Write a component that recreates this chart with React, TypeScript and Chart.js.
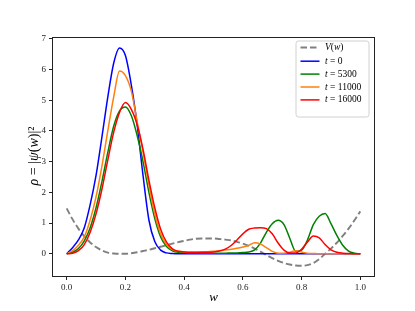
import React, { useEffect, useRef } from 'react';
import { Chart, registerables } from 'chart.js';

Chart.register(...registerables);

const W = [0, 0.02, 0.04, 0.06, 0.08, 0.1, 0.12, 0.14, 0.16, 0.18, 0.2, 0.22, 0.24, 0.26, 0.28, 0.3, 0.32, 0.34, 0.36, 0.38, 0.4, 0.42, 0.44, 0.46, 0.48, 0.5, 0.52, 0.54, 0.56, 0.58, 0.6, 0.62, 0.64, 0.66, 0.68, 0.7, 0.72, 0.74, 0.76, 0.78, 0.8, 0.82, 0.84, 0.86, 0.88, 0.9, 0.92, 0.94, 0.96, 0.98, 1.0];

const V_W = [1.48, 1.12, 0.82, 0.57, 0.37, 0.22, 0.11, 0.04, 0.01, 0.0, 0.0, 0.02, 0.05, 0.09, 0.13, 0.18, 0.23, 0.28, 0.33, 0.38, 0.42, 0.46, 0.49, 0.5, 0.5, 0.5, 0.48, 0.46, 0.44, 0.39, 0.33, 0.26, 0.17, 0.07, -0.04, -0.14, -0.23, -0.3, -0.35, -0.38, -0.39, -0.37, -0.3, -0.17, 0.0, 0.17, 0.36, 0.58, 0.82, 1.09, 1.38];

const RHO_T0 = [0, 0.2, 0.45, 0.85, 1.6, 2.55, 3.8, 5.1, 6.2, 6.7, 6.45, 5.5, 4.2, 2.55, 1.1, 0.4, 0.12, 0.03, 0.01, 0, 0, 0, 0, 0, 0, 0, 0, 0, 0, 0, 0, 0, 0, 0, 0, 0, 0, 0, 0, 0, 0, 0, 0, 0, 0, 0, 0, 0, 0, 0, 0];

const RHO_T5300 = [0, 0.05, 0.17, 0.42, 0.85, 1.5, 2.35, 3.3, 4.15, 4.65, 4.78, 4.5, 3.85, 3.0, 2.0, 1.15, 0.55, 0.24, 0.1, 0.05, 0.04, 0.03, 0.03, 0.02, 0.02, 0.02, 0.02, 0.02, 0.03, 0.03, 0.04, 0.06, 0.13, 0.35, 0.7, 0.98, 1.09, 0.95, 0.5, 0.08, 0.12, 0.45, 0.95, 1.22, 1.31, 0.98, 0.6, 0.28, 0.09, 0.02, 0];

const RHO_T11000 = [0, 0.1, 0.28, 0.55, 1.1, 1.85, 2.85, 4.0, 5.1, 5.95, 5.8, 5.3, 4.3, 3.3, 2.25, 1.3, 0.65, 0.3, 0.14, 0.08, 0.06, 0.05, 0.05, 0.06, 0.07, 0.08, 0.1, 0.12, 0.15, 0.18, 0.22, 0.27, 0.36, 0.32, 0.2, 0.08, 0.02, 0.02, 0.05, 0.1, 0.06, 0.02, 0.01, 0, 0, 0, 0, 0, 0, 0, 0];

const RHO_T16000 = [0, 0.02, 0.1, 0.3, 0.7, 1.3, 2.1, 3.05, 3.95, 4.6, 4.92, 4.7, 4.2, 3.4, 2.4, 1.5, 0.8, 0.38, 0.16, 0.08, 0.06, 0.05, 0.05, 0.05, 0.05, 0.06, 0.09, 0.15, 0.27, 0.45, 0.65, 0.8, 0.84, 0.85, 0.82, 0.65, 0.35, 0.12, 0.03, 0.03, 0.15, 0.38, 0.58, 0.52, 0.3, 0.13, 0.05, 0.02, 0.01, 0, 0];

const SERIES_LABELS = ['V(w)', 't = 0', 't = 5300', 't = 11000', 't = 16000'];
const X_TICKS = [0, 0.2, 0.4, 0.6, 0.8, 1.0];
const Y_TICKS = [0, 1, 2, 3, 4, 5, 6, 7];
const X_LABEL = 'w';
const Y_LABEL = 'ρ = |ψ(w)|²';

const FONT = '"Liberation Serif", "DejaVu Serif", serif';

function drawRich(ctx: CanvasRenderingContext2D, text: string, x: number, y: number, size: number, align: 'left' | 'center') {
  const segs: { t: string; it: boolean; w: number }[] = [];
  for (const ch of text) {
    const it = /[A-Za-z\u03b1-\u03c9]/.test(ch);
    const last = segs[segs.length - 1];
    if (last && last.it === it) last.t += ch;
    else segs.push({ t: ch, it, w: 0 });
  }
  const font = (it: boolean) => `${it ? 'italic ' : ''}${size}px ${FONT}`;
  let total = 0;
  for (const s of segs) {
    ctx.font = font(s.it);
    s.w = ctx.measureText(s.t).width;
    total += s.w;
  }
  let cx = align === 'center' ? x - total / 2 : x;
  ctx.textBaseline = 'middle';
  ctx.textAlign = 'left';
  for (const s of segs) {
    ctx.font = font(s.it);
    ctx.fillText(s.t, cx, y);
    cx += s.w;
  }
}

const decorPlugin = {
  id: 'decor',
  afterDraw(chart: any) {
    const { ctx, chartArea: a } = chart;
    ctx.save();
    ctx.strokeStyle = '#222';
    ctx.lineWidth = 1;
    ctx.strokeRect(Math.round(a.left) + 0.5, Math.round(a.top) + 0.5, Math.round(a.right - a.left) - 1, Math.round(a.bottom - a.top) - 1);
    ctx.fillStyle = '#000';
    ctx.save();
    ctx.translate(34, (a.top + a.bottom) / 2 - 1);
    ctx.rotate(-Math.PI / 2);
    drawRich(ctx, Y_LABEL, 0, 0, 14, 'center');
    ctx.restore();
    const bw = 73, bh = 76;
    const bx = a.right - 6 - bw, by = a.top + 4;
    const r = 2.5;
    ctx.beginPath();
    ctx.moveTo(bx + r, by);
    ctx.lineTo(bx + bw - r, by);
    ctx.quadraticCurveTo(bx + bw, by, bx + bw, by + r);
    ctx.lineTo(bx + bw, by + bh - r);
    ctx.quadraticCurveTo(bx + bw, by + bh, bx + bw - r, by + bh);
    ctx.lineTo(bx + r, by + bh);
    ctx.quadraticCurveTo(bx, by + bh, bx, by + bh - r);
    ctx.lineTo(bx, by + r);
    ctx.quadraticCurveTo(bx, by, bx + r, by);
    ctx.closePath();
    ctx.fillStyle = 'rgba(255,255,255,0.8)';
    ctx.fill();
    ctx.strokeStyle = '#d0d0d0';
    ctx.lineWidth = 1;
    ctx.stroke();
    chart.data.datasets.forEach((ds: any, i: number) => {
      const yy = by + 6.5 + i * 12.9 + (i > 0 ? 0.8 : 0);
      ctx.save();
      ctx.strokeStyle = ds.borderColor;
      ctx.lineWidth = ds.borderWidth;
      ctx.setLineDash(ds.borderDash || []);
      ctx.beginPath();
      ctx.moveTo(bx + 4.5, yy);
      ctx.lineTo(bx + 23.5, yy);
      ctx.stroke();
      ctx.restore();
      ctx.fillStyle = '#000';
      drawRich(ctx, ds.label, bx + 29, yy, 9.5, 'left');
    });
    ctx.restore();
  },
};

export default function App() {
  const ref = useRef<HTMLCanvasElement | null>(null);
  useEffect(() => {
    if (!ref.current) return;
    const mk = (arr: number[]) => W.map((x, i) => ({ x, y: arr[i] }));
    const series = [V_W, RHO_T0, RHO_T5300, RHO_T11000, RHO_T16000];
    const colors = ['#808080', '#0000ff', '#008000', '#ff7f0e', '#ff0000'];
    const datasets = series.map((arr, i) => ({
      label: SERIES_LABELS[i],
      data: mk(arr),
      borderColor: colors[i],
      backgroundColor: colors[i],
      borderWidth: i === 0 ? 1.9 : 1.5,
      borderDash: i === 0 ? [6.5, 3] : [],
      pointRadius: 0,
      fill: false,
      cubicInterpolationMode: 'monotone' as const,
      order: 5 - i,
    }));
    const tickFont = { family: FONT, size: 9 };
    const chart = new Chart(ref.current, {
      type: 'line',
      data: { datasets },
      options: {
        animation: false,
        responsive: false,
        layout: { padding: { left: 0, top: 37, right: 40, bottom: 0 } },
        plugins: { legend: { display: false }, tooltip: { enabled: false } },
        scales: {
          x: {
            type: 'linear',
            min: -0.05,
            max: 1.05,
            afterBuildTicks: (s: any) => {
              s.ticks = X_TICKS.map((v) => ({ value: v }));
            },
            afterFit: (s: any) => {
              s.height = 34;
            },
            ticks: {
              callback: (v: any) => Number(v).toFixed(1),
              font: tickFont,
              color: '#222',
              padding: 2,
              maxRotation: 0,
              autoSkip: false,
            },
            grid: { display: true, drawOnChartArea: false, drawTicks: true, tickLength: 3, color: '#222' },
            border: { display: false },
            title: {
              display: true,
              text: X_LABEL,
              font: { family: FONT, size: 13, style: 'italic' },
              color: '#000',
              padding: { top: 0, bottom: 6 },
            },
          },
          y: {
            type: 'linear',
            min: -0.755,
            max: 7.055,
            afterBuildTicks: (s: any) => {
              s.ticks = Y_TICKS.map((v) => ({ value: v }));
            },
            afterFit: (s: any) => {
              s.width = 52;
            },
            ticks: {
              callback: (v: any) => String(v),
              font: tickFont,
              color: '#222',
              padding: 3,
              autoSkip: false,
            },
            grid: { display: true, drawOnChartArea: false, drawTicks: true, tickLength: 3, color: '#222' },
            border: { display: false },
          },
        },
      },
      plugins: [decorPlugin],
    });
    return () => chart.destroy();
  }, []);
  return (
    <div style={{ position: 'absolute', left: 0, top: 0, width: 415, height: 311, background: '#fff' }}>
      <canvas ref={ref} width={415} height={311} style={{ display: 'block' }} />
    </div>
  );
}
